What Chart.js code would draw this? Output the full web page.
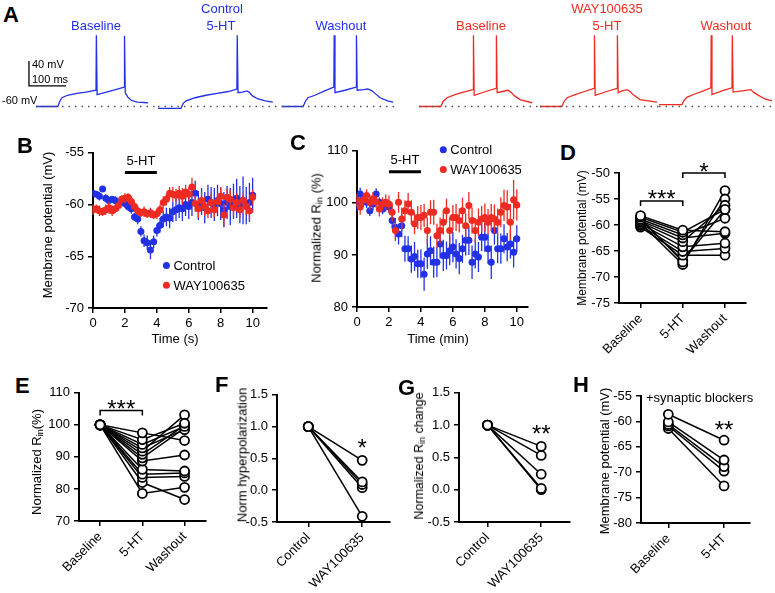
<!DOCTYPE html>
<html lang="en">
<head>
<meta charset="UTF-8">
<title>5-HT hyperpolarization and input resistance</title>
<script src="https://cdn.jsdelivr.net/npm/chart.js"></script>
<style>
  body { margin: 0; background: #fff; font-family: 'Liberation Sans', Arial, sans-serif; color: #000; }
  #fig { position: relative; width: 775px; height: 593px; overflow: hidden; }
  canvas { position: absolute; }
  .t { position: absolute; white-space: nowrap; transform: translate(-50%, -50%); font-size: 13px; line-height: 1; z-index: 2; }
  .l { position: absolute; white-space: nowrap; font-size: 11px; line-height: 1; z-index: 2; transform: translateY(-50%); }
  .v { position: absolute; white-space: nowrap; transform: translate(-50%, -50%) rotate(-90deg); font-size: 13px; line-height: 1; z-index: 2; }
  .p { position: absolute; font-weight: bold; font-size: 22px; line-height: 1; z-index: 2; }
  .blue { color: #2230e6; }
  .red { color: #ee2b22; }
  sub { font-size: 9px; vertical-align: -2px; }
</style>
</head>
<body>
<div id="fig">
  <canvas id="a1"></canvas><canvas id="a2"></canvas><canvas id="a3"></canvas>
  <canvas id="a4"></canvas><canvas id="a5"></canvas><canvas id="a6"></canvas>
  <canvas id="cB"></canvas><canvas id="cC"></canvas><canvas id="cD"></canvas>
  <canvas id="cE"></canvas><canvas id="cF"></canvas><canvas id="cG"></canvas><canvas id="cH"></canvas>

  <div class="p" style="left:3px;top:4px">A</div>
  <div class="p" style="left:17px;top:135px">B</div>
  <div class="p" style="left:290px;top:132px">C</div>
  <div class="p" style="left:560px;top:142px">D</div>
  <div class="p" style="left:15px;top:375px">E</div>
  <div class="p" style="left:215px;top:374px">F</div>
  <div class="p" style="left:398px;top:377px">G</div>
  <div class="p" style="left:573px;top:374px">H</div>

  <div class="t blue" style="left:96px;top:25px">Baseline</div>
  <div class="t blue" style="left:222px;top:8px">Control</div>
  <div class="t blue" style="left:221px;top:25px">5-HT</div>
  <div class="t blue" style="left:341px;top:25px">Washout</div>
  <div class="t red" style="left:607px;top:8px">WAY100635</div>
  <div class="t red" style="left:481px;top:25px">Baseline</div>
  <div class="t red" style="left:607px;top:25px">5-HT</div>
  <div class="t red" style="left:726px;top:25px">Washout</div>
  <div class="l" style="left:32px;top:64px">40 mV</div>
  <div class="l" style="left:32px;top:79px">100 ms</div>
  <div class="l" style="left:2px;top:100px">-60 mV</div>

  <div class="v" style="left:47px;top:225px">Membrane potential (mV)</div>
  <div class="v" style="left:317px;top:228px">Normalized R<sub>in</sub> (%)</div>
  <div class="v" style="left:582px;top:238px;font-size:12px">Membrane potential (mV)</div>
  <div class="v" style="left:37px;top:462px">Normalized R<sub>in</sub>(%)</div>
  <div class="v" style="left:242px;top:455px">Norm hyperpolarization</div>
  <div class="v" style="left:420px;top:456px;font-size:12.5px">Normalized R<sub>in</sub> change</div>
  <div class="v" style="left:604px;top:461px">Membrane potential (mV)</div>
  <div class="t" style="left:175px;top:338px">Time (s)</div>
  <div class="t" style="left:438px;top:338px">Time (min)</div>
</div>

<script>
  // ---------- data ----------
  const timePoints = [0, 0.2, 0.4, 0.6, 0.8, 1, 1.2, 1.4, 1.6, 1.8,
    2, 2.2, 2.4, 2.6, 2.8, 3, 3.2, 3.4, 3.6, 3.8,
    4, 4.2, 4.4, 4.6, 4.8, 5, 5.2, 5.4, 5.6, 5.8,
    6, 6.2, 6.4, 6.6, 6.8, 7, 7.2, 7.4, 7.6, 7.8,
    8, 8.2, 8.4, 8.6, 8.8, 9, 9.2, 9.4, 9.6, 9.8, 10];
  const timeTicks = [0, 2, 4, 6, 8, 10];

  // B: membrane potential (mV), mean and SEM
  const ctlB = [-58.9, -59.0, -59.2, -58.5, -59.4, -59.6, -59.5, -59.6, -59.8, -59.7,
    -59.9, -60.2, -60.4, -61.2, -61.4, -62.6, -63.5, -63.7, -64.4, -63.6,
    -62.5, -62.0, -61.4, -61.2, -61.3, -60.7, -60.5, -60.3, -60.4, -60.0,
    -60.2, -59.8, -58.9, -60.1, -59.7, -60.3, -59.5, -59.8, -60.0, -59.6,
    -59.9, -60.5, -59.8, -60.2, -59.7, -59.4, -60.0, -59.6, -60.1, -59.8, -59.1];
  const ctlErrB = [0.3, 0.3, 0.4, 0.3, 0.4, 0.3, 0.3, 0.4, 0.3, 0.4,
    0.4, 0.4, 0.5, 0.4, 0.5, 0.5, 0.6, 0.7, 0.9, 0.6,
    0.6, 0.7, 0.8, 0.9, 1.0, 1.0, 1.1, 1.0, 1.2, 1.1,
    1.2, 1.3, 1.2, 1.4, 1.3, 1.5, 1.4, 1.5, 1.6, 1.5,
    1.6, 1.7, 1.6, 1.8, 1.7, 1.9, 1.8, 2.3, 1.8, 1.9, 1.7];
  const wayB = [-60.5, -60.4, -60.6, -60.7, -60.5, -60.3, -60.6, -60.4, -60.1, -59.5,
    -59.4, -59.3, -59.7, -60.2, -60.6, -60.8, -60.7, -60.9, -60.8, -61.0,
    -60.9, -60.5, -59.8, -59.5, -58.9, -59.0, -59.1, -58.9, -59.2, -58.8,
    -59.0, -58.3, -59.9, -60.4, -59.6, -60.2, -60.6, -59.8, -60.5, -59.7,
    -59.2, -61.0, -59.3, -59.5, -60.3, -59.8, -60.5, -59.6, -60.2, -60.6, -59.3];
  const wayErrB = [0.5, 0.4, 0.5, 0.4, 0.5, 0.6, 0.5, 0.4, 0.5, 0.4,
    0.5, 0.4, 0.5, 0.5, 0.4, 0.4, 0.5, 0.4, 0.5, 0.4,
    0.5, 0.5, 0.6, 0.6, 0.6, 0.7, 0.6, 0.7, 0.8, 0.7,
    0.7, 0.9, 0.8, 0.9, 0.8, 0.9, 0.7, 0.9, 0.8, 0.8,
    0.9, 1.1, 0.8, 0.9, 0.8, 0.9, 0.8, 0.7, 0.8, 0.9, 0.7];

  // C: normalized input resistance (%), mean and SEM
  const ctlC = [99.5, 101.7, 100.4, 100.1, 98.5, 99.8, 101.7, 100.1, 98.8, 99.5,
    99.2, 96.6, 95.3, 94.0, 95.6, 91.2, 91.2, 89.2, 89.7, 88.3,
    88.3, 86.3, 90.2, 90.8, 88.6, 88.6, 92.1, 89.9, 89.9, 90.8,
    91.5, 90.2, 89.3, 91.2, 92.8, 92.8, 88.6, 90.2, 89.6, 93.4,
    93.4, 91.2, 88.6, 94.7, 91.2, 91.2, 93.1, 91.5, 92.1, 90.5, 93.1];
  const ctlErrC = [1.0, 1.2, 1.0, 1.1, 1.0, 1.2, 1.1, 1.0, 1.0, 1.1,
    1.2, 1.5, 1.8, 2.0, 2.2, 2.5, 2.4, 2.6, 2.8, 2.7,
    2.8, 3.2, 2.9, 2.8, 3.0, 2.9, 2.8, 3.0, 2.7, 2.8,
    2.9, 2.8, 3.0, 2.7, 2.9, 2.8, 3.2, 2.8, 2.9, 2.7,
    2.8, 2.9, 3.2, 2.7, 2.8, 2.9, 2.8, 2.7, 2.8, 2.9, 2.6];
  const wayC = [100.5, 99.2, 100.5, 101.4, 100.1, 100.8, 100.2, 98.8, 99.8, 100.1,
    99.8, 98.2, 94.7, 100.1, 96.9, 98.5, 99.8, 98.2, 96.0, 97.2,
    97.2, 97.6, 94.7, 98.2, 98.2, 93.7, 94.7, 96.3, 98.5, 94.7,
    97.2, 97.2, 96.6, 98.5, 95.6, 99.5, 96.6, 94.7, 96.3, 96.9,
    97.2, 96.3, 97.2, 96.9, 96.3, 98.2, 99.5, 99.2, 96.3, 100.6, 99.6];
  const wayErrC = [1.2, 1.5, 1.3, 1.2, 1.5, 1.3, 1.2, 1.4, 1.3, 1.5,
    1.6, 1.8, 2.0, 2.0, 2.2, 2.0, 2.1, 2.3, 2.0, 2.2,
    2.4, 2.2, 2.5, 2.3, 2.4, 2.3, 2.5, 2.4, 2.3, 2.5,
    2.4, 2.6, 2.3, 2.5, 2.4, 2.6, 2.5, 2.4, 2.6, 2.5,
    2.7, 2.5, 2.6, 2.8, 2.6, 2.9, 3.0, 3.2, 3.5, 3.8, 3.0];

  // D: membrane potential (mV) per cell
  const catsD = ['Baseline', '5-HT', 'Washout'];
  const baseD = [-58.2, -58.5, -58.9, -59.2, -59.5, -59.8, -60.1, -60.4, -58.7, -59.6, -59.0];
  const htD = [-61.0, -61.4, -61.9, -62.5, -63.2, -64.2, -65.1, -65.8, -67.1, -67.6, -66.8];
  const washD = [-61.3, -57.0, -58.7, -61.6, -56.2, -63.5, -64.5, -65.8, -55.0, -53.4, -57.0];

  // E: normalized Rin (%) per cell
  const catsE = ['Baseline', '5-HT', 'Washout'];
  const baseE = [100, 100, 100, 100, 100, 100, 100, 100, 100, 100, 100, 100, 100];
  const htE = [97.5, 95.4, 93.9, 92.8, 91.8, 90.8, 89.7, 88.7, 86.1, 84.6, 83.6, 82.0, 78.6];
  const washE = [95.1, 100.5, 99.5, 98.5, 103.1, 99.8, 99.0, 90.6, 85.6, 85.0, 83.9, 76.7, 80.5];

  // F, G: normalized to control
  const catsFG = ['Control', 'WAY100635'];
  const ctlF = [1, 1, 1, 1, 1];
  const wayF = [0.47, 0.13, 0.09, 0.04, -0.41];
  const ctlG = [1, 1, 1, 1, 1];
  const wayG = [0.67, 0.53, 0.24, 0.02, 0.0];

  // H: membrane potential with synaptic blockers (mV)
  const catsH = ['Baseline', '5-HT'];
  const baseH = [-58.6, -60.1, -60.6, -60.9, -61.4];
  const htH = [-63.7, -67.6, -68.9, -69.8, -72.7];

  // A: example traces, [time ms, mV]
  const blueBase = [[0, -60], [59, -60], [64, -52], [70, -46], [85, -42], [110, -39], [135, -37], [162, -34], [163, 54], [165, -41],
    [190, -37], [215, -33], [238, -29], [239, 53], [241, -38], [248, -45], [257, -50], [273, -53], [302, -54]];
  const blue5ht = [[0, -63], [62, -63], [68, -55], [76, -51], [100, -46], [130, -42], [160, -39], [190, -36], [213, -32], [214, 54],
    [216, -38], [228, -37], [240, -35], [246, -37], [255, -43], [270, -48], [290, -51], [310, -53]];
  const blueWash = [[0, -60], [57, -60], [63, -52], [70, -46], [89, -42], [115, -35], [140, -29], [141, 54], [143, -38], [170, -34],
    [200, -29], [201, 54], [203, -34], [220, -33], [232, -32], [243, -35], [255, -41], [265, -46], [285, -51], [300, -53]];
  const redBase = [[0, -60], [59, -60], [65, -52], [76, -46], [97, -41], [120, -37], [146, -33], [147, 54], [149, -42], [180, -36],
    [208, -31], [209, 54], [211, -38], [225, -36], [240, -34], [248, -37], [258, -43], [273, -49], [305, -54]];
  const red5ht = [[0, -60], [59, -60], [65, -52], [73, -46], [95, -41], [120, -36], [146, -31], [147, 54], [149, -42], [180, -36],
    [208, -31], [209, 54], [211, -38], [222, -35], [235, -33], [243, -36], [251, -41], [270, -49], [316, -53]];
  const redWash = [[0, -57], [62, -57], [68, -50], [76, -45], [97, -40], [120, -35], [140, -30], [141, 54], [143, -41], [170, -35],
    [197, -30], [198, 54], [200, -37], [225, -35], [248, -33], [255, -37], [265, -41], [286, -48], [305, -51]];
  const restMv = -60;
  const scaleBarMv = 40, scaleBarMs = 100;

  // ---------- layout ----------
  const FONT = "'Liberation Sans', Arial, sans-serif";
  const BLUE = '#2230e6', RED = '#ee2b22';
  const MS_PER_PX = 2.7, MV_TOP = 62.4, MV_BOT = -68.8, A_TOP = 30, A_H = 82;

  Chart.defaults.font.family = FONT;
  Chart.defaults.color = '#000';

  function frame(id, L) {
    const c = document.getElementById(id);
    const left = L.area[0] - L.yw, top = L.area[1] - L.pt;
    c.width = L.area[2] + L.pr - left;
    c.height = L.area[3] + L.xh - top;
    c.style.left = left + 'px';
    c.style.top = top + 'px';
    return c;
  }

  function extras(cfg) {
    return {
      id: 'extras',
      beforeDatasetDraw(chart, args) {
        const ds = chart.data.datasets[args.index];
        if (!ds.err) return;
        const xs = chart.scales.x, ys = chart.scales.y, ctx = chart.ctx;
        ctx.save();
        ctx.strokeStyle = ds.borderColor;
        ctx.lineWidth = 1.3;
        ctx.beginPath();
        ds.data.forEach((p, i) => {
          const px = xs.getPixelForValue(p.x);
          ctx.moveTo(px, ys.getPixelForValue(p.y - ds.err[i]));
          ctx.lineTo(px, ys.getPixelForValue(p.y + ds.err[i]));
        });
        ctx.stroke();
        ctx.restore();
      },
      afterDatasetsDraw(chart) {
        const xs = chart.scales.x, ys = chart.scales.y, ctx = chart.ctx;
        const X = v => xs.getPixelForValue(v), Y = v => ys.getPixelForValue(v);
        ctx.save();
        ctx.strokeStyle = '#000';
        ctx.fillStyle = '#000';
        (cfg.brackets || []).forEach(b => {
          const tk = b.tick || 0;
          ctx.lineWidth = b.w || 1.5;
          ctx.beginPath();
          ctx.moveTo(X(b.x1), Y(b.y) + tk);
          ctx.lineTo(X(b.x1), Y(b.y));
          ctx.lineTo(X(b.x2), Y(b.y));
          ctx.lineTo(X(b.x2), Y(b.y) + tk);
          ctx.stroke();
        });
        (cfg.labels || []).forEach(t => {
          const size = t.size || 13;
          ctx.font = size + 'px ' + FONT;
          ctx.textAlign = 'center';
          if (t.star) {
            ctx.textBaseline = 'alphabetic';
            ctx.fillText(t.text, X(t.x), Y(t.y) + 0.57 * size);
          } else {
            ctx.textBaseline = 'middle';
            ctx.fillText(t.text, X(t.x), Y(t.y));
          }
        });
        (cfg.keys || []).forEach(k => {
          const ds = chart.data.datasets[k.ds];
          ctx.fillStyle = ds.pointBackgroundColor;
          ctx.beginPath();
          ctx.arc(X(k.x), Y(k.y), 3.5, 0, Math.PI * 2);
          ctx.fill();
          ctx.fillStyle = '#000';
          ctx.font = '13px ' + FONT;
          ctx.textAlign = 'left';
          ctx.textBaseline = 'middle';
          ctx.fillText(ds.label, X(k.x) + 7, Y(k.y) + 1);
        });
        ctx.restore();
      }
    };
  }

  function yAxis(L, min, max, step, fmt) {
    return {
      type: 'linear', min, max,
      afterFit(s) { s.width = L.yw; },
      ticks: { stepSize: step, color: '#000', font: { size: 13 }, padding: 4, callback: fmt || (v => v) },
      grid: { drawOnChartArea: false, tickLength: 5, color: '#000', lineWidth: 1.5 },
      border: { color: '#000', width: 2 }
    };
  }

  function xAxis(L, min, max, tickVals, labels, rot) {
    return {
      type: 'linear', min, max,
      afterFit(s) { s.height = L.xh; },
      afterBuildTicks(s) { s.ticks = tickVals.map(v => ({ value: v })); },
      ticks: {
        autoSkip: false, minRotation: rot, maxRotation: rot, color: '#000', font: { size: 13 }, padding: 3,
        callback: labels ? ((v, i) => labels[i]) : (v => v)
      },
      grid: { drawOnChartArea: false, tickLength: 5, color: '#000', lineWidth: 1.5 },
      border: { color: '#000', width: 2 }
    };
  }

  function baseOptions(L, scales) {
    return {
      responsive: false, animation: false,
      layout: { padding: { top: L.pt, right: L.pr, left: 0, bottom: 0 } },
      plugins: { legend: { display: false }, tooltip: { enabled: false } },
      scales
    };
  }

  function timeChart(id, L, ctl, ctlErr, way, wayErr, yOpts, xMax, cfg) {
    const mk = (label, vals, err, color, order) => ({
      label, order, err,
      data: timePoints.map((t, i) => ({ x: t, y: vals[i] })),
      borderColor: color, pointBackgroundColor: color, pointBorderWidth: 0, pointRadius: 3.5, showLine: false
    });
    new Chart(frame(id, L), {
      type: 'scatter',
      data: { datasets: [mk('Control', ctl, ctlErr, BLUE, 1), mk('WAY100635', way, wayErr, RED, 0)] },
      options: baseOptions(L, { x: xAxis(L, 0, xMax, timeTicks, null, 0), y: yOpts }),
      plugins: [extras(cfg)]
    });
  }

  function pairedChart(id, L, cats, series, yOpts, xRange, cfg) {
    const datasets = series[0].map((_, k) => ({
      data: series.map((s, i) => ({ x: i, y: s[k] })),
      showLine: true, borderColor: '#000', borderWidth: 1.5,
      pointRadius: 4.5, pointBorderWidth: 1.8, pointBackgroundColor: '#fff', pointBorderColor: '#000'
    }));
    new Chart(frame(id, L), {
      type: 'scatter',
      data: { datasets },
      options: baseOptions(L, { x: xAxis(L, xRange[0], xRange[1], cats.map((_, i) => i), cats, 45), y: yOpts }),
      plugins: [extras(cfg)]
    });
  }

  function traceChart(id, left, width, t0, trace, color, withBar) {
    const c = document.getElementById(id);
    c.width = width; c.height = A_H;
    c.style.left = left + 'px'; c.style.top = A_TOP + 'px';
    const tMax = t0 + width * MS_PER_PX;
    const line = (data, col, w, dash) => ({
      data, borderColor: col, borderWidth: w, borderDash: dash || [], showLine: true, pointRadius: 0, tension: 0, clip: false
    });
    const sets = [
      line([{ x: 0, y: restMv }, { x: tMax, y: restMv }], '#555', 1.5, [1.5, 5]),
      line(trace.map(p => ({ x: p[0], y: p[1] })), color, 1.3)
    ];
    if (withBar) {
      const bt = -19, bv = -27;
      sets.push(line([{ x: bt, y: bv + scaleBarMv }, { x: bt, y: bv }, { x: bt + scaleBarMs, y: bv }], '#000', 1.3));
    }
    new Chart(c, {
      type: 'scatter',
      data: { datasets: sets },
      options: {
        responsive: false, animation: false, layout: { padding: 0 },
        plugins: { legend: { display: false }, tooltip: { enabled: false } },
        scales: { x: { type: 'linear', display: false, min: t0, max: tMax }, y: { display: false, min: MV_BOT, max: MV_TOP } }
      }
    });
  }

  // ---------- panel A ----------
  traceChart('a1', 0, 158, -36 * MS_PER_PX, blueBase, BLUE, true);
  traceChart('a2', 158, 124, 0, blue5ht, BLUE);
  traceChart('a3', 282, 113, 0, blueWash, BLUE);
  traceChart('a4', 419, 121, 0, redBase, RED);
  traceChart('a5', 540, 119, 0, red5ht, RED);
  traceChart('a6', 659, 116, 0, redWash, RED);

  // ---------- panel B ----------
  const LB = { area: [93, 151, 267, 308], yw: 40, xh: 24, pt: 10, pr: 10 };
  timeChart('cB', LB, ctlB, ctlErrB, wayB, wayErrB, yAxis(LB, -70, -55, 5), 10.9, {
    brackets: [{ x1: 2, x2: 4, y: -56.9, w: 3 }],
    labels: [{ x: 3, y: -55.85, text: '5-HT' }],
    keys: [{ x: 4.6, y: -65.9, ds: 0 }, { x: 4.6, y: -67.8, ds: 1 }]
  });

  // ---------- panel C ----------
  const LC = { area: [357, 149, 528, 307], yw: 40, xh: 24, pt: 10, pr: 10 };
  timeChart('cC', LC, ctlC, ctlErrC, wayC, wayErrC, yAxis(LC, 80, 110, 10), 10.7, {
    brackets: [{ x1: 2, x2: 4, y: 106.0, w: 3 }],
    labels: [{ x: 3, y: 108.1, text: '5-HT' }],
    keys: [{ x: 5.4, y: 110.2, ds: 0 }, { x: 5.4, y: 106.4, ds: 1 }]
  });

  // ---------- panel D ----------
  const LD = { area: [619, 173, 748, 303], yw: 40, xh: 60, pt: 20, pr: 4 };
  pairedChart('cD', LD, catsD, [baseD, htD, washD], yAxis(LD, -75, -50, 5), [-0.51, 2.49], {
    brackets: [{ x1: 0, x2: 1, y: -55.4, tick: 5 }, { x1: 1, x2: 2, y: -50, tick: 5 }],
    labels: [{ x: 0.5, y: -54.0, text: '***', size: 24, star: true }, { x: 1.5, y: -48.8, text: '*', size: 24, star: true }]
  });

  // ---------- panel E ----------
  const LE = { area: [79, 391, 208, 521], yw: 40, xh: 60, pt: 10, pr: 4 };
  pairedChart('cE', LE, catsE, [baseE, htE, washE], yAxis(LE, 70, 110, 10), [-0.5, 2.5], {
    brackets: [{ x1: 0, x2: 1, y: 104.5, tick: 5 }],
    labels: [{ x: 0.5, y: 106.6, text: '***', size: 24, star: true }]
  });

  // ---------- panel F ----------
  const LF = { area: [277, 393, 392, 522], yw: 40, xh: 68, pt: 10, pr: 4 };
  pairedChart('cF', LF, catsFG, [ctlF, wayF], yAxis(LF, -0.5, 1.5, 0.5, v => v.toFixed(1)), [-0.58, 1.51], {
    labels: [{ x: 1, y: 0.756, text: '*', size: 24, star: true }]
  });

  // ---------- panel G ----------
  const LG = { area: [459, 391, 572, 522], yw: 40, xh: 68, pt: 10, pr: 4 };
  pairedChart('cG', LG, catsFG, [ctlG, wayG], yAxis(LG, -0.5, 1.5, 0.5, v => v.toFixed(1)), [-0.53, 1.53], {
    labels: [{ x: 1, y: 0.95, text: '**', size: 24, star: true }]
  });

  // ---------- panel H ----------
  const LH = { area: [641, 396, 752, 523], yw: 40, xh: 60, pt: 12, pr: 4 };
  pairedChart('cH', LH, catsH, [baseH, htH], yAxis(LH, -80, -55, 5), [-0.49, 1.46], {
    labels: [{ x: 0.56, y: -55.4, text: '+synaptic blockers' }, { x: 1, y: -60.5, text: '**', size: 24, star: true }]
  });
</script>
</body>
</html>
